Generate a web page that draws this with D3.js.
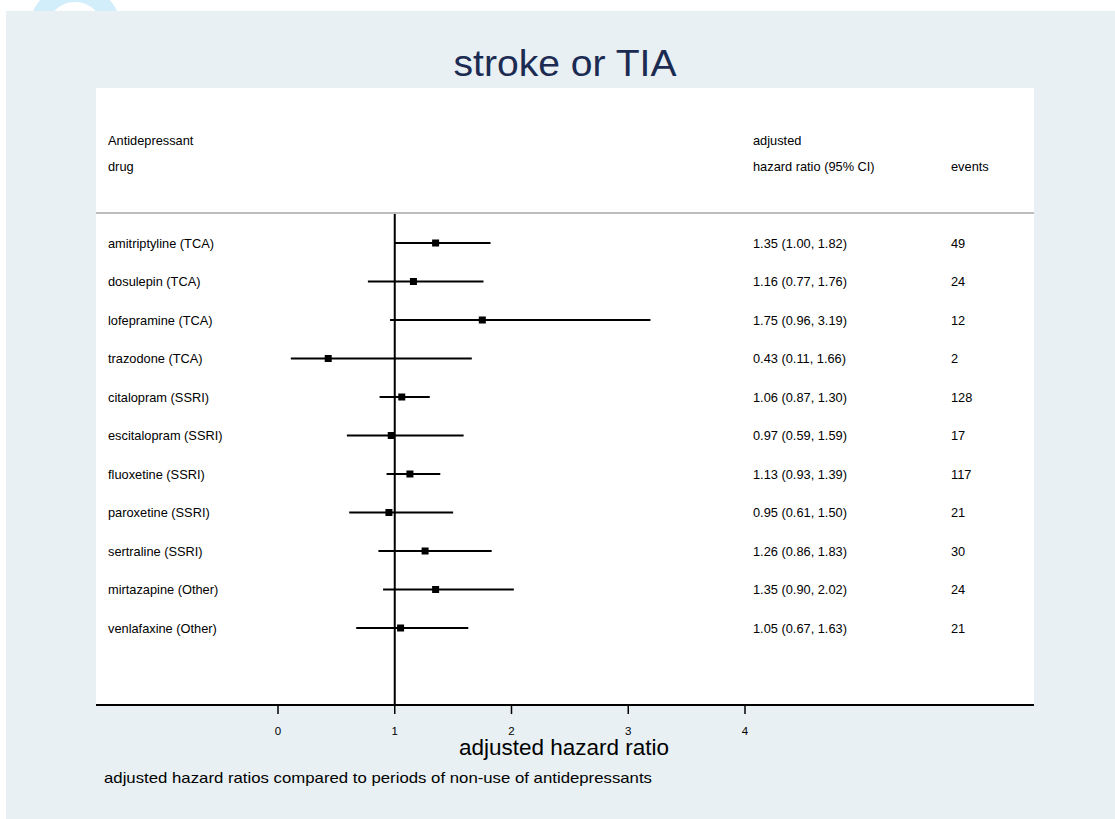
<!DOCTYPE html>
<html>
<head>
<meta charset="utf-8">
<script src="https://cdn.jsdelivr.net/npm/d3@7"></script>
<style>
  body { margin: 0; background: #fff; }
  svg { display: block; font-family: Arial, "Liberation Sans", sans-serif; }
</style>
</head>
<body>
<div id="chart"></div>
<script>
// drugs and estimates
const drugs = [
  "amitriptyline (TCA)", "dosulepin (TCA)", "lofepramine (TCA)", "trazodone (TCA)",
  "citalopram (SSRI)", "escitalopram (SSRI)", "fluoxetine (SSRI)", "paroxetine (SSRI)",
  "sertraline (SSRI)", "mirtazapine (Other)", "venlafaxine (Other)"
];
const hr     = [1.35, 1.16, 1.75, 0.43, 1.06, 0.97, 1.13, 0.95, 1.26, 1.35, 1.05];
const lower  = [1.00, 0.77, 0.96, 0.11, 0.87, 0.59, 0.93, 0.61, 0.86, 0.90, 0.67];
const upper  = [1.82, 1.76, 3.19, 1.66, 1.30, 1.59, 1.39, 1.50, 1.83, 2.02, 1.63];
const events = [49, 24, 12, 2, 128, 17, 117, 21, 30, 24, 21];
const xTicks = [0, 1, 2, 3, 4];

const W = 1115, H = 819;
const plot = { left: 96, right: 1034, top: 88, bottom: 705 };
const fs = 12.8; // table text size

const svg = d3.select("#chart").append("svg")
  .attr("width", W)
  .attr("height", H);

// faint logo ring peeking out behind the panel
svg.append("circle")
  .attr("cx", 75).attr("cy", 30).attr("r", 37)
  .attr("fill", "none")
  .attr("stroke", "#d3eefb")
  .attr("stroke-width", 18);

// outer panel
svg.append("rect")
  .attr("x", 6).attr("y", 11)
  .attr("width", W - 6).attr("height", H - 11)
  .attr("fill", "#e8f0f3");

// plot region
svg.append("rect")
  .attr("x", plot.left).attr("y", plot.top)
  .attr("width", plot.right - plot.left).attr("height", plot.bottom - plot.top)
  .attr("fill", "#fff");

svg.append("text")
  .attr("x", 565).attr("y", 76)
  .attr("text-anchor", "middle")
  .attr("font-size", 36)
  .attr("fill", "#1c2b52")
  .attr("textLength", 223)
  .attr("lengthAdjust", "spacingAndGlyphs")
  .text("stroke or TIA");

const x = d3.scaleLinear().domain([0, 4]).range([278, 745]);
const y = d3.scalePoint().domain(drugs).range([243, 628]);

// column headers
const headers = [
  { t: "Antidepressant", x: 108, y: 145 },
  { t: "drug", x: 108, y: 171 },
  { t: "adjusted", x: 753, y: 145 },
  { t: "hazard ratio (95% CI)", x: 753, y: 171 },
  { t: "events", x: 951, y: 171 }
];
svg.selectAll("text.hdr")
  .data(headers)
  .enter().append("text")
  .attr("class", "hdr")
  .attr("x", d => d.x).attr("y", d => d.y)
  .attr("font-size", fs)
  .attr("fill", "#000")
  .text(d => d.t);

// separator under the header
svg.append("line")
  .attr("x1", plot.left).attr("x2", plot.right)
  .attr("y1", 213).attr("y2", 213)
  .attr("stroke", "#bdbdbd").attr("stroke-width", 2);

// null line at HR = 1
svg.append("line")
  .attr("x1", x(1)).attr("x2", x(1))
  .attr("y1", 214).attr("y2", plot.bottom)
  .attr("stroke", "#000").attr("stroke-width", 2);

const rows = svg.selectAll("g.row")
  .data(drugs.map((d, i) => ({ drug: d, hr: hr[i], lo: lower[i], hi: upper[i], n: events[i] })))
  .enter().append("g")
  .attr("class", "row")
  .attr("transform", d => `translate(0,${y(d.drug)})`);

rows.append("text")
  .attr("x", 108).attr("y", 4.5)
  .attr("font-size", fs)
  .text(d => d.drug);

rows.append("line")
  .attr("x1", d => x(d.lo)).attr("x2", d => x(d.hi))
  .attr("stroke", "#000").attr("stroke-width", 2.2);

rows.append("rect")
  .attr("x", d => x(d.hr) - 3.5).attr("y", -3.5)
  .attr("width", 7).attr("height", 7)
  .attr("fill", "#000");

rows.append("text")
  .attr("x", 753).attr("y", 4.5)
  .attr("font-size", fs)
  .text(d => `${d.hr.toFixed(2)} (${d.lo.toFixed(2)}, ${d.hi.toFixed(2)})`);

rows.append("text")
  .attr("x", 951).attr("y", 4.5)
  .attr("font-size", fs)
  .text(d => d.n);

// x axis
const axis = svg.append("g")
  .attr("transform", `translate(0,${plot.bottom})`);
axis.append("line")
  .attr("x1", plot.left).attr("x2", plot.right)
  .attr("stroke", "#000").attr("stroke-width", 2);
axis.selectAll("g.tick")
  .data(xTicks)
  .enter().append("g")
  .attr("class", "tick")
  .attr("transform", d => `translate(${x(d)},0)`)
  .each(function (d) {
    const t = d3.select(this);
    t.append("line").attr("y1", 0).attr("y2", 9).attr("stroke", "#000").attr("stroke-width", 1.5);
    t.append("text").attr("y", 30).attr("text-anchor", "middle")
      .attr("font-size", 11.5).attr("fill", "#000").text(d);
  });

svg.append("text")
  .attr("x", 564).attr("y", 755)
  .attr("text-anchor", "middle")
  .attr("font-size", 22)
  .attr("textLength", 210)
  .attr("lengthAdjust", "spacingAndGlyphs")
  .text("adjusted hazard ratio");

svg.append("text")
  .attr("x", 104).attr("y", 783)
  .attr("font-size", 15)
  .attr("textLength", 548)
  .attr("lengthAdjust", "spacingAndGlyphs")
  .text("adjusted hazard ratios compared to periods of non-use of antidepressants");
</script>
</body>
</html>
